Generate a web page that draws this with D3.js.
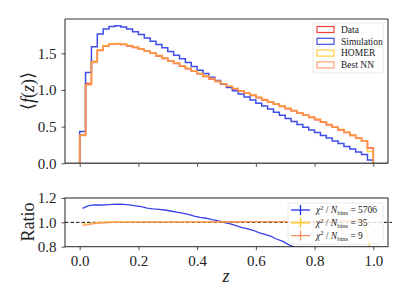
<!DOCTYPE html>
<html>
<head>
<meta charset="utf-8">
<script src="https://cdn.jsdelivr.net/npm/d3@7"></script>
<style>
  body { margin: 0; background: #fff; }
  text { font-family: "Liberation Serif", "DejaVu Serif", serif; fill: #222; }
</style>
</head>
<body>
<script>
// Width and height
var w = 407, h = 305;

// 50 bins in z from 0 to 1
var nBins = 50;
var binEdges = d3.range(nBins + 1).map(function(i) { return i / nBins; });

var dataVals = [0.39,1.09,1.39,1.545,1.60,1.625,1.63,1.62,1.60,1.58,1.555,1.53,1.50,1.465,1.43,1.395,1.36,1.325,1.29,1.255,
                1.22,1.185,1.15,1.115,1.08,1.045,1.015,0.985,0.955,0.925,0.895,0.865,0.835,0.805,0.775,0.745,0.715,0.685,0.655,0.625,
                0.595,0.56,0.525,0.49,0.455,0.42,0.38,0.34,0.30,0.21];
var simVals = [0.435,1.24,1.59,1.765,1.83,1.865,1.875,1.86,1.83,1.795,1.755,1.71,1.665,1.62,1.575,1.525,1.475,1.425,1.375,1.32,
               1.27,1.225,1.175,1.13,1.08,1.035,0.99,0.945,0.905,0.865,0.82,0.78,0.74,0.695,0.655,0.61,0.57,0.53,0.49,0.455,
               0.42,0.38,0.345,0.305,0.27,0.23,0.195,0.155,0.12,0.045];
var homerVals = [0.385,1.075,1.385,1.545,1.605,1.63,1.635,1.625,1.605,1.585,1.56,1.535,1.505,1.47,1.435,1.40,1.365,1.33,1.295,1.26,
                 1.225,1.19,1.155,1.12,1.085,1.05,1.02,0.99,0.96,0.93,0.90,0.87,0.84,0.81,0.78,0.75,0.72,0.69,0.66,0.63,
                 0.60,0.565,0.53,0.495,0.46,0.425,0.385,0.345,0.30,0.16];
var nnVals = [0.38,1.07,1.375,1.535,1.595,1.625,1.632,1.622,1.603,1.583,1.56,1.535,1.505,1.47,1.435,1.40,1.365,1.33,1.295,1.26,
              1.225,1.19,1.155,1.12,1.085,1.05,1.02,0.99,0.96,0.93,0.90,0.87,0.84,0.81,0.78,0.75,0.72,0.69,0.66,0.63,
              0.60,0.565,0.53,0.495,0.46,0.425,0.385,0.345,0.305,0.205];

var seriesNames = ["Data", "Simulation", "HOMER", "Best NN"];
var seriesColors = ["#f01e1e", "#1e2ee6", "#ffc61a", "#fc8f5e"];
var chi2Vals = [5706, 35, 9];

var xTicks = [0, 0.2, 0.4, 0.6, 0.8, 1.0];
var topYTicks = [0, 0.5, 1.0, 1.5];
var ratioYTicks = [0.8, 1.0, 1.2];

var svg = d3.select("body").append("svg")
  .attr("width", w).attr("height", h);

var x = d3.scaleLinear().domain([-0.05, 1.05]).range([65, 388]);
var yTop = d3.scaleLinear().domain([0, 1.968]).range([163.3, 19]);
var yRat = d3.scaleLinear().domain([0.8, 1.2]).range([246.7, 198]);

function styleAxis(g) {
  g.select(".domain").remove();
  g.selectAll(".tick line").attr("stroke", "#222").attr("stroke-width", 0.8);
  g.selectAll(".tick text").style("font-size", "15px")
    .style("font-family", "'Liberation Serif', serif").attr("fill", "#222");
}

// ---- top panel ----
var topG = svg.append("g");

topG.append("g").attr("transform", "translate(0,163.3)")
  .call(d3.axisBottom(x).tickValues(xTicks).tickSize(3.5).tickFormat(""))
  .call(styleAxis);
topG.append("g").attr("transform", "translate(65,0)")
  .call(d3.axisLeft(yTop).tickValues(topYTicks).tickSize(3.5).tickPadding(5).tickFormat(d3.format(".1f")))
  .call(styleAxis);

var allVals = [dataVals, simVals, homerVals, nnVals];

function stepPts(vals) {
  var pts = [[binEdges[0], 0]];
  vals.forEach(function(v, i) { pts.push([binEdges[i], v]); });
  pts.push([binEdges[nBins], vals[nBins - 1]]);
  pts.push([binEdges[nBins], 0]);
  return pts;
}
var stepLine = d3.line()
  .x(function(d) { return x(d[0]); })
  .y(function(d) { return yTop(d[1]); })
  .curve(d3.curveStepAfter);

allVals.forEach(function(vals, k) {
  topG.append("path")
    .attr("d", stepLine(stepPts(vals)))
    .attr("fill", "none")
    .attr("stroke", seriesColors[k])
    .attr("stroke-width", 1.5)
    .attr("stroke-opacity", k == 3 ? 0.8 : 0.85);
});

// spines
topG.append("line").attr("x1", 65).attr("x2", 388).attr("y1", 19).attr("y2", 19)
  .attr("stroke", "#999").attr("stroke-width", 2);
topG.append("line").attr("x1", 65).attr("x2", 388).attr("y1", 163.3).attr("y2", 163.3)
  .attr("stroke", "#555").attr("stroke-width", 1.5);
topG.append("line").attr("x1", 65).attr("x2", 65).attr("y1", 19).attr("y2", 163.3)
  .attr("stroke", "#222").attr("stroke-width", 1);
topG.append("line").attr("x1", 388).attr("x2", 388).attr("y1", 19).attr("y2", 163.3)
  .attr("stroke", "#222").attr("stroke-width", 1);

// y label
var yl = topG.append("text")
  .attr("transform", "translate(34,91) rotate(-90)")
  .attr("text-anchor", "middle")
  .style("font-size", "18px");
yl.append("tspan").text("\u27E8");
yl.append("tspan").style("font-style", "italic").text("f");
yl.append("tspan").text("(");
yl.append("tspan").style("font-style", "italic").text("z");
yl.append("tspan").text(")");
yl.append("tspan").text("\u27E9");

// top legend
var leg = topG.append("g");
leg.append("rect").attr("x", 313).attr("y", 23).attr("width", 70).attr("height", 50)
  .attr("rx", 2).attr("fill", "#fff").attr("fill-opacity", 0.8)
  .attr("stroke", "#e4e4e4").attr("stroke-width", 0.8);
seriesNames.forEach(function(name, k) {
  var yy = 29.5 + k * 11.8;
  leg.append("rect").attr("x", 317).attr("y", yy - 3).attr("width", 17).attr("height", 6)
    .attr("fill", "none").attr("stroke", seriesColors[k]).attr("stroke-width", 1.2)
    .attr("stroke-opacity", 0.85);
  leg.append("text").attr("x", 341).attr("y", yy + 3.2)
    .style("font-size", "9.5px").text(name);
});

// ---- ratio panel ----
var bot = svg.append("g");

bot.append("g").attr("transform", "translate(0,246.7)")
  .call(d3.axisBottom(x).tickValues(xTicks).tickSize(3.5).tickPadding(5).tickFormat(d3.format(".1f")))
  .call(styleAxis);
bot.append("g").attr("transform", "translate(65,0)")
  .call(d3.axisLeft(yRat).tickValues(ratioYTicks).tickSize(3.5).tickPadding(5).tickFormat(d3.format(".1f")))
  .call(styleAxis);

svg.append("clipPath").attr("id", "ratioClip")
  .append("rect").attr("x", 65).attr("y", 198).attr("width", 323).attr("height", 48.7);

bot.append("line")
  .attr("x1", 65).attr("x2", 392)
  .attr("y1", yRat(1)).attr("y2", yRat(1))
  .attr("stroke", "#111").attr("stroke-width", 1)
  .attr("stroke-dasharray", "3.5,2");

var centers = d3.range(nBins).map(function(i) { return (binEdges[i] + binEdges[i + 1]) / 2; });
var ratioLine = d3.line()
  .x(function(d) { return x(d[0]); })
  .y(function(d) { return yRat(d[1]); });

var ratioG = bot.append("g").attr("clip-path", "url(#ratioClip)");
[simVals, homerVals, nnVals].forEach(function(vals, k) {
  var pts = centers.map(function(c, i) { return [c, vals[i] / dataVals[i]]; });
  ratioG.append("path")
    .attr("d", ratioLine(pts))
    .attr("fill", "none")
    .attr("stroke", seriesColors[k + 1])
    .attr("stroke-width", 1.3)
    .attr("stroke-opacity", 0.9);
});

bot.append("rect").attr("x", 65).attr("y", 198).attr("width", 323).attr("height", 48.7)
  .attr("fill", "none").attr("stroke", "#222").attr("stroke-width", 1);

bot.append("text")
  .attr("transform", "translate(34,222) rotate(-90)")
  .attr("text-anchor", "middle")
  .style("font-size", "18px").text("Ratio");

bot.append("text").attr("x", 226).attr("y", 281.5)
  .attr("text-anchor", "middle")
  .style("font-size", "18px").style("font-style", "italic").text("z");

// ratio legend
var leg2 = bot.append("g");
leg2.append("rect").attr("x", 288).attr("y", 203).attr("width", 95).attr("height", 41)
  .attr("rx", 2).attr("fill", "#fff").attr("fill-opacity", 0.8)
  .attr("stroke", "#e4e4e4").attr("stroke-width", 0.8);
chi2Vals.forEach(function(v, k) {
  var yy = 210 + k * 12.8;
  var col = seriesColors[k + 1];
  leg2.append("line").attr("x1", 291).attr("x2", 310).attr("y1", yy).attr("y2", yy)
    .attr("stroke", col).attr("stroke-width", 1.3);
  leg2.append("line").attr("x1", 300.5).attr("x2", 300.5).attr("y1", yy - 5).attr("y2", yy + 5)
    .attr("stroke", col).attr("stroke-width", 1.3);
  var t = leg2.append("text").attr("x", 316).attr("y", yy + 3.2).style("font-size", "9.5px");
  t.append("tspan").style("font-style", "italic").text("\u03C7");
  t.append("tspan").attr("dy", -3.5).style("font-size", "6.5px").text("2");
  t.append("tspan").attr("dy", 3.5).text(" / ");
  t.append("tspan").style("font-style", "italic").text("N");
  t.append("tspan").attr("dy", 2).style("font-size", "6.5px").text("bins");
  t.append("tspan").attr("dy", -2).text(" = " + v);
});
</script>
</body>
</html>
